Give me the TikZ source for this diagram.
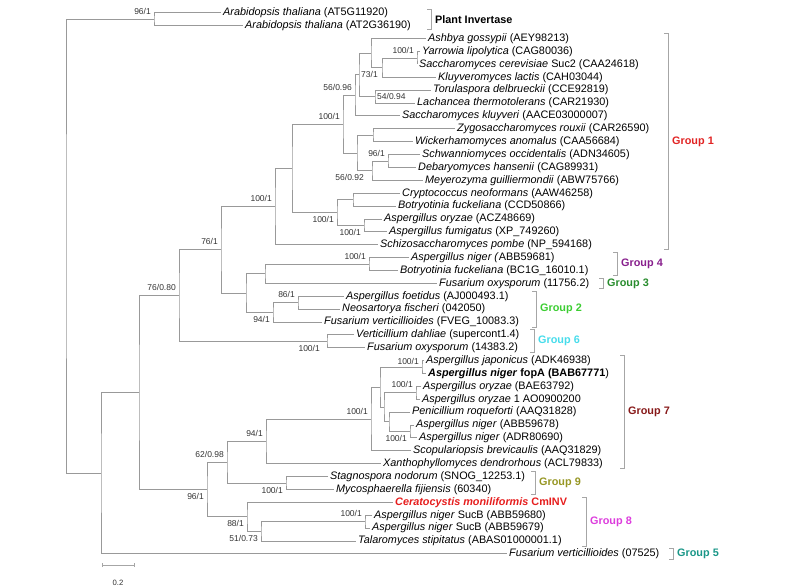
\documentclass[tikz,border=0pt]{standalone}
\usepackage{fontspec}
\setmainfont{Liberation Sans}
\usetikzlibrary{calc}
\definecolor{grpone}{RGB}{225,35,35}
\definecolor{grptwo}{RGB}{60,205,50}
\definecolor{grpthree}{RGB}{40,140,45}
\definecolor{grpfour}{RGB}{135,30,140}
\definecolor{grpfive}{RGB}{25,150,135}
\definecolor{grpsix}{RGB}{70,220,235}
\definecolor{grpseven}{RGB}{135,25,25}
\definecolor{grpeight}{RGB}{220,60,220}
\definecolor{grpnine}{RGB}{150,150,35}
\definecolor{cmred}{RGB}{230,30,30}
\tikzset{
  branch/.style={draw=black!40, line width=0.9pt},
  brk/.style={draw=black!35, line width=0.9pt},
  taxon/.style={anchor=west, inner xsep=2pt, inner ysep=0pt, text height=8pt, text depth=2.4pt, font=\fontsize{10.85}{13}\selectfont},
  boot/.style={inner sep=0pt, text=black!80, text height=6.2pt, text depth=0pt, font=\fontsize{8.5}{10}\selectfont},
  boothi/.style={boot, anchor=east, xshift=-3pt, yshift=8pt},
  bootlo/.style={boot, anchor=east, xshift=-3pt, yshift=-7pt},
  bootrt/.style={boot, anchor=west, xshift=2pt},
  grplab/.style={anchor=west, inner sep=0pt, font=\fontsize{10.85}{13}\selectfont\bfseries}
}
\newcommand{\taxon}[4]{\node[taxon] (#1) at (#2,#3) {#4};}
\newcommand{\clade}[3]{\draw[branch] (#2) -| (#1) |- (#3);}
\newcommand{\gbracket}[6]{\draw[brk] (#2-4,#3-0.4) -- (#2,#3-0.4) -- (#2,#4+0.4) -- (#2-4,#4+0.4); \node[grplab, text=#5] (#1) at (#2+4,{(#3+#4)/2}) {#6};}

\begin{document}
\begin{tikzpicture}[x=1pt, y=-12.88pt]
\useasboundingbox (0,0) rectangle (785,45.652);

% leaves
\taxon{l1}{221}{1}{\textit{Arabidopsis thaliana} (AT5G11920)}
\taxon{l2}{243}{2}{\textit{Arabidopsis thaliana} (AT2G36190)}
\taxon{l3}{426}{3}{\textit{Ashbya gossypii} (AEY98213)}
\taxon{l4}{420}{4}{\textit{Yarrowia lipolytica} (CAG80036)}
\taxon{l5}{417}{5}{\textit{Saccharomyces cerevisiae} Suc2 (CAA24618)}
\taxon{l6}{436}{6}{\textit{Kluyveromyces lactis} (CAH03044)}
\taxon{l7}{431}{7}{\textit{Torulaspora delbrueckii} (CCE92819)}
\taxon{l8}{415}{8}{\textit{Lachancea thermotolerans} (CAR21930)}
\taxon{l9}{400}{9}{\textit{Saccharomyces kluyveri} (AACE03000007)}
\taxon{l10}{455}{10}{\textit{Zygosaccharomyces rouxii} (CAR26590)}
\taxon{l11}{413}{11}{\textit{Wickerhamomyces anomalus} (CAA56684)}
\taxon{l12}{420}{12}{\textit{Schwanniomyces occidentalis} (ADN34605)}
\taxon{l13}{416}{13}{\textit{Debaryomyces hansenii} (CAG89931)}
\taxon{l14}{423}{14}{\textit{Meyerozyma guilliermondii} (ABW75766)}
\taxon{l15}{400}{15}{\textit{Cryptococcus neoformans} (AAW46258)}
\taxon{l16}{396}{16}{\textit{Botryotinia fuckeliana} (CCD50866)}
\taxon{l17}{382}{17}{\textit{Aspergillus oryzae} (ACZ48669)}
\taxon{l18}{387}{18}{\textit{Aspergillus fumigatus} (XP\_749260)}
\taxon{l19}{378}{19}{\textit{Schizosaccharomyces pombe} (NP\_594168)}
\taxon{l20}{409}{20}{\textit{Aspergillus niger (}ABB59681)}
\taxon{l21}{398}{21}{\textit{Botryotinia fuckeliana} (BC1G\_16010.1)}
\taxon{l22}{437}{22}{\textit{Fusarium oxysporum} (11756.2)}
\taxon{l23}{344}{23}{\textit{Aspergillus foetidus} (AJ000493.1)}
\taxon{l24}{340}{24}{\textit{Neosartorya fischeri} (042050)}
\taxon{l25}{322}{25}{\textit{Fusarium verticillioides} (FVEG\_10083.3)}
\taxon{l26}{354}{26}{\textit{Verticillium dahliae} (supercont1.4)}
\taxon{l27}{365}{27}{\textit{Fusarium oxysporum} (14383.2)}
\taxon{l28}{424}{28}{\textit{Aspergillus japonicus} (ADK46938)}
\taxon{l29}{426}{29}{\textbf{\textit{Aspergillus niger} fopA (BAB67771})}
\taxon{l30}{421}{30}{\textit{Aspergillus oryzae} (BAE63792)}
\taxon{l31}{420}{31}{\textit{Aspergillus oryzae} 1 AO0900200}
\taxon{l32}{410}{32}{\textit{Penicillium roqueforti} (AAQ31828)}
\taxon{l33}{414}{33}{\textit{Aspergillus niger} (ABB59678)}
\taxon{l34}{417}{34}{\textit{Aspergillus niger} (ADR80690)}
\taxon{l35}{411}{35}{\textit{Scopulariopsis brevicaulis} (AAQ31829)}
\taxon{l36}{381}{36}{\textit{Xanthophyllomyces dendrorhous} (ACL79833)}
\taxon{l37}{328}{37}{\textit{Stagnospora nodorum} (SNOG\_12253.1)}
\taxon{l38}{334}{38}{\textit{Mycosphaerella fijiensis} (60340)}
\taxon{l39}{393}{39}{\textcolor{cmred}{\textbf{\textit{Ceratocystis moniliformis} CmINV}}}
\taxon{l40}{372}{40}{\textit{Aspergillus niger} SucB (ABB59680)}
\taxon{l41}{370}{41}{\textit{Aspergillus niger} SucB (ABB59679)}
\taxon{l42}{356}{42}{\textit{Talaromyces stipitatus} (ABAS01000001.1)}
\taxon{l43}{507}{43}{\textit{Fusarium verticillioides} (07525)}

% inner nodes
\coordinate (root) at (66,19.12);
\coordinate (arab) at (154,1.5);
\coordinate (nA) at (101,36.74);
\coordinate (nB) at (139,30.48);
\coordinate (nC) at (179,22.95);
\coordinate (nD) at (221,19.39);
\coordinate (nE) at (275,16.04);
\coordinate (nF) at (292,13.07);
\coordinate (nG) at (343,9.64);
\coordinate (nH) at (355,7.41);
\coordinate (nI) at (359,5.81);
\coordinate (nK0) at (371,4.125);
\coordinate (nK1) at (382,5.25);
\coordinate (nYS) at (417,4.5);
\coordinate (nTL) at (375,7.5);
\coordinate (nJ) at (357,11.875);
\coordinate (nZW) at (373,10.5);
\coordinate (nK) at (372,13.25);
\coordinate (nSD) at (388,12.5);
\coordinate (nL) at (337,16.5);
\coordinate (nCB) at (353,15.5);
\coordinate (nOF) at (364,17.5);
\coordinate (nM) at (246,22.75);
\coordinate (nN) at (265,21.25);
\coordinate (nNB) at (369,20.5);
\coordinate (nO) at (273,24.25);
\coordinate (nFN) at (298,23.5);
\coordinate (nVF) at (327,26.5);
\coordinate (nT) at (207,38.0);
\coordinate (nR) at (227,35.88);
\coordinate (nP) at (266,34.27);
\coordinate (nQ) at (371,32.53);
\coordinate (nZ) at (380,30.06);
\coordinate (nJN) at (422,28.5);
\coordinate (nX) at (384,31.625);
\coordinate (nOB) at (416,30.5);
\coordinate (nY) at (389,32.75);
\coordinate (nNP) at (410,33.5);
\coordinate (nSM) at (286,37.5);
\coordinate (nU) at (247,40.125);
\coordinate (nV) at (261,41.25);
\coordinate (nSB) at (365,40.5);

% branches
\clade{root}{arab}{nA}
\clade{arab}{l1.west}{l2.west}
\clade{nA}{nB}{l43.west}
\clade{nB}{nC}{nT}
\clade{nC}{nD}{nVF}
\clade{nD}{nE}{nM}
\clade{nE}{nF}{l19.west}
\clade{nF}{nG}{nL}
\clade{nG}{nH}{nJ}
\clade{nH}{nI}{l9.west}
\clade{nI}{nK0}{nTL}
\clade{nK0}{l3.west}{nK1}
\clade{nK1}{nYS}{l6.west}
\clade{nYS}{l4.west}{l5.west}
\clade{nTL}{l7.west}{l8.west}
\clade{nJ}{nZW}{nK}
\clade{nZW}{l10.west}{l11.west}
\clade{nK}{nSD}{l14.west}
\clade{nSD}{l12.west}{l13.west}
\clade{nL}{nCB}{nOF}
\clade{nCB}{l15.west}{l16.west}
\clade{nOF}{l17.west}{l18.west}
\clade{nM}{nN}{nO}
\clade{nN}{nNB}{l22.west}
\clade{nNB}{l20.west}{l21.west}
\clade{nO}{nFN}{l25.west}
\clade{nFN}{l23.west}{l24.west}
\clade{nVF}{l26.west}{l27.west}
\clade{nT}{nR}{nU}
\clade{nR}{nP}{nSM}
\clade{nP}{nQ}{l36.west}
\clade{nQ}{nZ}{l35.west}
\clade{nZ}{nJN}{nX}
\clade{nJN}{l28.west}{l29.west}
\clade{nX}{nOB}{nY}
\clade{nOB}{l30.west}{l31.west}
\clade{nY}{l32.west}{nNP}
\clade{nNP}{l33.west}{l34.west}
\clade{nSM}{l37.west}{l38.west}
\clade{nU}{l39.west}{nV}
\clade{nV}{nSB}{l42.west}
\clade{nSB}{l40.west}{l41.west}

% support values
\node[boothi] (s1) at (arab) {96/1};
\node[boothi] (s2) at (nYS) {100/1};
\node[bootrt] (s3) at (nI) {73/1};
\node[boothi] (s4) at (nH) {56/0.96};
\node[bootrt] (s5) at (nTL) {54/0.94};
\node[boothi] (s6) at (nG) {100/1};
\node[boothi] (s7) at (nSD) {96/1};
\node[bootlo, xshift=-5pt] (s8) at (nK) {56/0.92};
\node[boothi] (s9) at (nE) {100/1};
\node[bootlo] (s10) at (nL) {100/1};
\node[bootlo] (s11) at (nOF) {100/1};
\node[boothi] (s12) at (nD) {76/1};
\node[boothi] (s13) at (nNB) {100/1};
\node[boothi] (s14) at (nFN) {86/1};
\node[bootlo] (s15) at (nO) {94/1};
\node[boothi] (s16) at (nC) {76/0.80};
\node[bootlo, xshift=-4pt] (s17) at (nVF) {100/1};
\node[boothi, yshift=-2pt] (s18) at (nJN) {100/1};
\node[boothi] (s19) at (nOB) {100/1};
\node[boothi] (s20) at (nQ) {100/1};
\node[bootlo] (s21) at (nNP) {100/1};
\node[boothi] (s22) at (nP) {94/1};
\node[boothi] (s23) at (nR) {62/0.98};
\node[bootlo] (s24) at (nSM) {100/1};
\node[bootlo] (s25) at (nT) {96/1};
\node[boothi] (s26) at (nSB) {100/1};
\node[bootlo] (s27) at (nU) {88/1};
\node[bootlo] (s28) at (nV) {51/0.73};

% groups
\draw[brk] (427,0.75) -- (431,0.75) -- (431,2.25) -- (427,2.25);
\node[grplab] (plant) at (435,1.5) {Plant Invertase};
\gbracket{g1}{668}{3}{19}{grpone}{Group 1}
\gbracket{g4}{617}{20}{21}{grpfour}{Group 4}
\gbracket{g3}{603}{22}{22}{grpthree}{Group 3}
\gbracket{g2}{536}{23}{25}{grptwo}{Group 2}
\gbracket{g6}{534}{26}{27}{grpsix}{Group 6}
\gbracket{g7}{624}{28}{36}{grpseven}{Group 7}
\gbracket{g9}{535}{37}{38}{grpnine}{Group 9}
\gbracket{g8}{586}{39}{42}{grpeight}{Group 8}
\gbracket{g5}{673}{43}{43}{grpfive}{Group 5}

% scale
\coordinate (sc0) at (102,43.87);
\coordinate (sc1) at (134,43.87);
\draw[brk] (sc0) -- (sc1);
\draw[brk] ([yshift=-2pt]sc0) -- ([yshift=2pt]sc0);
\draw[brk] ([yshift=-2pt]sc1) -- ([yshift=2pt]sc1);
\node[boot, font=\fontsize{7.7}{9}\selectfont] (sclab) at (118,45.19) {0.2};
\end{tikzpicture}
\end{document}
